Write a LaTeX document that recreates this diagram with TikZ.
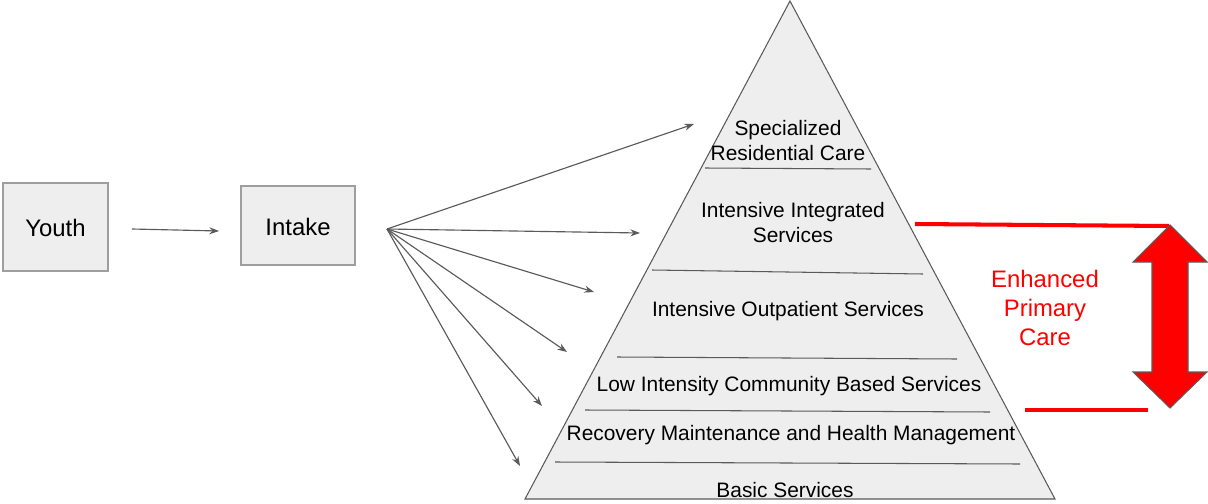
\documentclass[tikz,border=0pt]{standalone}
\usepackage{fontspec}
\setmainfont{Liberation Sans}
\usetikzlibrary{arrows.meta}
\definecolor{boxfill}{HTML}{EEEEEE}
\definecolor{boxline}{HTML}{9E9E9E}
\definecolor{darkline}{HTML}{5A5A5A}
\definecolor{epred}{HTML}{FF0000}
\tikzset{
  bigbox/.style={draw=boxline, fill=boxfill, line width=0.6pt},
  bigtxt/.style={font=\fontsize{13.6}{16}\selectfont, text=black, inner sep=0pt},
  tiertxt/.style={font=\fontsize{11.9}{14.2}\selectfont, text=black, inner sep=0pt, align=center},
  tierline/.style={draw=darkline, line width=0.6pt},
  flow/.style={draw=darkline, line width=0.65pt, -{Stealth[length=5.5pt,width=4pt]}},
  redline/.style={draw=epred, line width=2.3pt},
  redtxt/.style={font=\fontsize{13.6}{16.4}\selectfont, text=epred, align=center, inner sep=0pt}
}
\begin{document}
\begin{tikzpicture}[x=0.02cm,y=-0.02cm]
\useasboundingbox (0,0) rectangle (1208,504);
% boxes
\draw[bigbox] (3,183) rectangle (108,271);
\node[bigtxt] (youth) at (55.5,228) {Youth};
\draw[bigbox] (241,186) rectangle (355,265);
\node[bigtxt] (intake) at (298,227) {Intake};
\coordinate (ya) at (132,229);
\coordinate (yb) at (219,231);
\draw[flow] (ya) -- (yb);
% pyramid
\draw[draw=darkline, fill=boxfill, line width=0.6pt] (790,1) -- (1055,499) -- (525,499) -- cycle;
\draw[tierline] (705,168) -- (871,169);
\draw[tierline] (652,270) -- (923,274);
\draw[tierline] (617,357) -- (957,359);
\draw[tierline] (585,410) -- (990,412);
\draw[tierline] (555,462) -- (1020,464);
\node[tiertxt] (t1) at (788,140.5) {Specialized\\Residential Care};
\node[tiertxt] (t2) at (793,222.5) {Intensive Integrated\\Services};
\node[tiertxt] (t3) at (788,311) {Intensive Outpatient Services};
\node[tiertxt] (t4) at (789,386.5) {Low Intensity Community Based Services};
\node[tiertxt] (t5) at (791,435.5) {Recovery Maintenance and Health Management};
\node[tiertxt] (t6) at (785,490) {Basic Services};
% fan arrows
\coordinate (fan) at (387,229);
\coordinate (a1) at (694,124);
\coordinate (a2) at (640,233);
\coordinate (a3) at (594,292);
\coordinate (a4) at (567,352);
\coordinate (a5) at (542,406);
\coordinate (a6) at (520,466);
\foreach \t in {a1,a2,a3,a4,a5,a6} \draw[flow] (fan) -- (\t);
% red part
\coordinate (r1a) at (915,224);
\coordinate (r1b) at (1169,226);
\coordinate (r2a) at (1025,410);
\coordinate (r2b) at (1148,410);
\draw[redline] (r1a) -- (r1b);
\draw[redline] (r2a) -- (r2b);
\draw[draw=darkline, fill=epred, line width=0.6pt]
  (1170,225) -- (1207,262) -- (1188,262) -- (1188,372) -- (1207,372) -- (1170,408)
  -- (1133,372) -- (1152,372) -- (1152,262) -- (1133,262) -- cycle;
\node[redtxt] (epc) at (1045,308) {Enhanced\\Primary\\Care};
\end{tikzpicture}
\end{document}
